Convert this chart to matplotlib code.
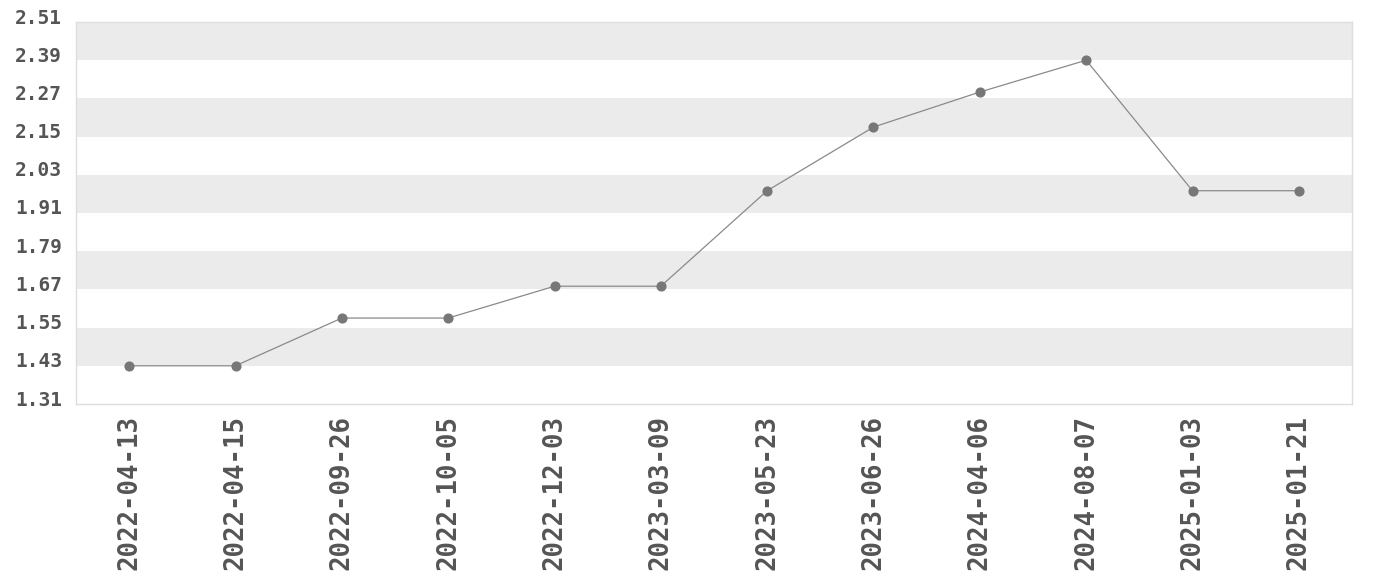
import matplotlib
matplotlib.use('Agg')
import matplotlib.pyplot as plt
import matplotlib.transforms as mtransforms
import numpy as np

# Data
dates = ['2022-04-13', '2022-04-15', '2022-09-26', '2022-10-05', '2022-12-03',
         '2023-03-09', '2023-05-23', '2023-06-26', '2024-04-06', '2024-08-07',
         '2025-01-03', '2025-01-21']
values = [1.43, 1.43, 1.58, 1.58, 1.68, 1.68, 1.98, 2.18, 2.29, 2.39, 1.98, 1.98]
y_ticks = [1.31, 1.43, 1.55, 1.67, 1.79, 1.91, 2.03, 2.15, 2.27, 2.39, 2.51]

plt.rcParams['font.family'] = ['DejaVu Sans Mono']
plt.rcParams['font.weight'] = 'bold'

fig = plt.figure(figsize=(13.8, 5.8), dpi=100)
ax = fig.add_axes([76 / 1380, 1 - 404 / 580, 1276 / 1380, 382 / 580])

x = np.arange(len(dates))

# alternating horizontal bands
for i in range(len(y_ticks) - 1):
    if i % 2 == 1:
        ax.axhspan(y_ticks[i], y_ticks[i + 1], color='#ebebeb', lw=0, zorder=0)

ax.plot(x, values, color='#8a8a8a', lw=0.9, marker='o', markersize=6.3,
        markerfacecolor='#777777', markeredgecolor='#777777', zorder=3)

ax.set_xlim(-0.5, len(dates) - 0.5)
ax.set_ylim(y_ticks[0], y_ticks[-1])
ax.set_yticks(y_ticks)
ax.set_yticklabels([f'{v:.2f}' for v in y_ticks])
ax.set_xticks(x)
ax.set_xticklabels(dates, rotation=90)

ax.tick_params(axis='y', length=0, pad=10, labelsize=14, labelcolor='#555555')
ax.tick_params(axis='x', length=0, pad=8, labelsize=18.5, labelcolor='#555555')

# y labels sit a little above their tick
shift = mtransforms.ScaledTranslation(0, 6 / 100, fig.dpi_scale_trans)
for lab in ax.get_yticklabels():
    lab.set_transform(lab.get_transform() + shift)

for s in ax.spines.values():
    s.set_color('#dddddd')
    s.set_linewidth(1)

fig.savefig('out.png', dpi=100)
